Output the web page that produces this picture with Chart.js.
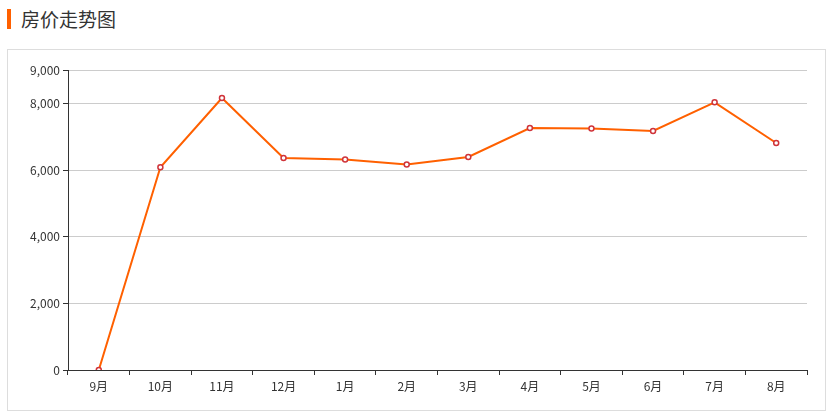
<!DOCTYPE html>
<html>
<head>
<meta charset="utf-8">
<script src="https://cdn.jsdelivr.net/npm/chart.js@4/dist/chart.umd.min.js"></script>
<style>
	html, body { margin: 0; padding: 0; background: #fff; }
	body { width: 826px; height: 418px; position: relative; overflow: hidden; font-family: "Noto Sans CJK SC", sans-serif; }
	.title-bar { position: absolute; left: 7px; top: 9px; width: 4px; height: 20px; background: #ff6000; }
	.title { position: absolute; left: 21px; top: 5px; font-size: 19px; line-height: 28px; color: #333; }
	.box { position: absolute; left: 7px; top: 49px; width: 817px; height: 360px; border: 1px solid #ddd; }
	.box canvas { position: absolute; left: 0; top: 0; }
</style>
</head>
<body>
<div class="title-bar"></div>
<div class="title">房价走势图</div>
<div class="box"><canvas id="price-chart" width="817" height="360"></canvas></div>
<script>
// ── Data ────────────────────────────────────────────────────────────────────

const MONTHS = ['9月', '10月', '11月', '12月', '1月', '2月', '3月', '4月', '5月', '6月', '7月', '8月']
const PRICES = [0, 6080, 8160, 6360, 6315, 6165, 6390, 7260, 7245, 7170, 8030, 6810]
const Y_TICKS = [0, 2000, 4000, 6000, 8000, 9000]

// ── Chart ───────────────────────────────────────────────────────────────────

const FONT = { family: '"Noto Sans CJK SC", sans-serif', size: 12 }

const ctx = document.getElementById('price-chart').getContext('2d')
new Chart(ctx, {
	type: 'line',
	data: {
		labels: MONTHS,
		datasets: [
			{
				label: '房价',
				data: PRICES,
				borderColor: '#ff6000',
				borderWidth: 2,
				tension: 0,
				fill: false,
				pointRadius: 2.5,
				pointBorderWidth: 1.5,
				pointBorderColor: '#d0343a',
				pointBackgroundColor: '#ffffff',
			},
		],
	},
	options: {
		responsive: false,
		animation: false,
		locale: 'en-US',
		layout: { padding: { left: 0, top: 20, right: 18, bottom: 0 } },
		scales: {
			x: {
				offset: true,
				grid: { offset: true, drawOnChartArea: false, drawTicks: true, tickLength: 5, color: '#333' },
				border: { display: true, color: '#333', width: 1 },
				ticks: { color: '#333', font: FONT, padding: 4, maxRotation: 0, autoSkip: false },
				afterFit: scale => { scale.height = 40 },
			},
			y: {
				min: 0,
				max: 9000,
				afterBuildTicks: scale => { scale.ticks = Y_TICKS.map(v => ({ value: v })) },
				grid: { color: '#ccc', tickColor: '#333', tickLength: 5 },
				border: { display: true, color: '#333', width: 1 },
				ticks: { color: '#333', font: FONT, padding: 3 },
				afterFit: scale => { scale.width = 60 },
			},
		},
		plugins: {
			legend: { display: false },
			tooltip: { enabled: false },
		},
	},
})
</script>
</body>
</html>
